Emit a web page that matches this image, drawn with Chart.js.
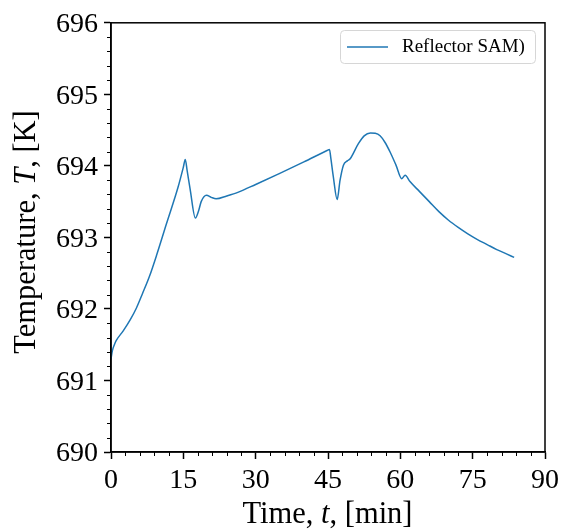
<!DOCTYPE html>
<html>
<head>
<meta charset="utf-8">
<script src="https://cdn.jsdelivr.net/npm/chart.js@4.4.1/dist/chart.umd.min.js"></script>
<style>
  html, body { margin: 0; padding: 0; background: #fff; }
  #wrap { width: 564px; height: 532px; }
</style>
</head>
<body>
<div id="wrap"><canvas id="tempChart" width="564" height="532"></canvas></div>
<script>
// time [min] and temperature [K]
const times = [0, 0.3, 0.7, 1.1, 2.5, 4, 5.25, 6.5, 8, 9.5, 11.5, 13.9, 15.0, 15.4, 15.8, 16.4, 17.5, 18.2, 18.7, 19.8, 20.8, 21.8,
  24, 26.3, 30, 35, 40, 44.8, 45.3, 45.6, 46.1, 46.9, 47.5, 48.2, 49.0, 49.6, 51.3, 52.5, 53.8, 54.8, 55.8, 56.8, 57.9, 59.1,
  60.3, 61.0, 62, 64, 66, 68, 70, 72, 74, 76, 78, 80, 82, 83.6];
const temps = [691.30, 691.42, 691.50, 691.56, 691.69, 691.85, 692.01, 692.21, 692.46, 692.76, 693.19, 693.70, 693.98, 694.09, 693.93, 693.68, 693.27, 693.38, 693.50, 693.59, 693.56, 693.54,
  693.58, 693.63, 693.74, 693.895, 694.055, 694.215, 694.23, 694.10, 693.85, 693.53, 693.80, 694.01, 694.07, 694.10, 694.31, 694.42, 694.46, 694.455, 694.42, 694.33, 694.19, 694.01,
  693.82, 693.87, 693.78, 693.64, 693.50, 693.36, 693.24, 693.14, 693.05, 692.97, 692.90, 692.83, 692.77, 692.72];
const seriesLabel = 'Reflector SAM)';
const xTicks = [0, 15, 30, 45, 60, 75, 90];
const yTicks = [690, 691, 692, 693, 694, 695, 696];

const serif = '"Liberation Serif", "Times New Roman", serif';
const tickFont = { family: serif, size: 28 };
const titleSize = 30.5;

// draw a string made of [text, italic] pieces, centred on the origin
function drawPieces(ctx, pieces, size) {
  let total = 0;
  pieces.forEach(p => {
    ctx.font = (p[1] ? 'italic ' : '') + size + 'px ' + serif;
    total += ctx.measureText(p[0]).width;
  });
  let x = -total / 2;
  pieces.forEach(p => {
    ctx.font = (p[1] ? 'italic ' : '') + size + 'px ' + serif;
    ctx.fillText(p[0], x, 0);
    x += ctx.measureText(p[0]).width;
  });
}

const extras = {
  id: 'extras',
  afterDraw(chart) {
    const ctx = chart.ctx;
    const a = chart.chartArea;
    const xs = chart.scales.x, ys = chart.scales.y;
    ctx.save();
    ctx.strokeStyle = '#000';
    ctx.lineWidth = 1.5;
    ctx.strokeRect(a.left, a.top, a.right - a.left, a.bottom - a.top);

    // minor ticks
    ctx.lineWidth = 1;
    ctx.beginPath();
    for (let v = 0; v <= 90; v += 3) {
      if (v % 15 === 0) continue;
      const px = Math.round(xs.getPixelForValue(v)) + 0.5;
      ctx.moveTo(px, a.bottom); ctx.lineTo(px, a.bottom + 4);
    }
    for (let i = 0; i <= 30; i++) {
      if (i % 5 === 0) continue;
      const py = Math.round(ys.getPixelForValue(690 + i * 0.2)) + 0.5;
      ctx.moveTo(a.left, py); ctx.lineTo(a.left - 4, py);
    }
    ctx.stroke();

    // axis titles
    ctx.fillStyle = '#000';
    ctx.textBaseline = 'alphabetic';
    ctx.textAlign = 'left';
    ctx.save();
    ctx.translate(327.5, 523);
    drawPieces(ctx, [['Time, ', false], ['t', true], [', [min]', false]], titleSize);
    ctx.restore();
    ctx.save();
    ctx.translate(35, 232);
    ctx.rotate(-Math.PI / 2);
    drawPieces(ctx, [['Temperature, ', false], ['T', true], [', [K]', false]], titleSize);
    ctx.restore();

    // legend
    const lx = 340, ly = 30, lw = 195, lh = 33;
    ctx.beginPath();
    ctx.roundRect(lx + 0.5, ly + 0.5, lw, lh, 4);
    ctx.fillStyle = 'rgba(255,255,255,0.8)';
    ctx.fill();
    ctx.strokeStyle = '#d6d6d6';
    ctx.lineWidth = 1;
    ctx.stroke();
    ctx.beginPath();
    ctx.strokeStyle = '#1f77b4';
    ctx.lineWidth = 1.5;
    ctx.moveTo(347, ly + 17); ctx.lineTo(388, ly + 17);
    ctx.stroke();
    ctx.fillStyle = '#000';
    ctx.font = '19px ' + serif;
    ctx.textBaseline = 'middle';
    ctx.fillText(chart.data.datasets[0].label, 402, ly + 17);
    ctx.restore();
  }
};

new Chart(document.getElementById('tempChart').getContext('2d'), {
  type: 'line',
  data: {
    datasets: [{
      label: seriesLabel,
      data: times.map((t, i) => ({ x: t, y: temps[i] })),
      borderColor: '#1f77b4',
      borderWidth: 1.5,
      pointRadius: 0,
      fill: false,
      cubicInterpolationMode: 'monotone'
    }]
  },
  options: {
    responsive: false,
    animation: false,
    layout: { padding: { top: 20, right: 19, left: 0, bottom: 0 } },
    plugins: { legend: { display: false }, tooltip: { enabled: false } },
    scales: {
      x: {
        type: 'linear',
        min: 0, max: 90,
        afterBuildTicks: s => { s.ticks = xTicks.map(v => ({ value: v })); },
        afterFit: s => { s.height = 80; },
        ticks: { font: tickFont, color: '#000', padding: 5, maxRotation: 0 },
        grid: { drawOnChartArea: false, color: '#000', tickLength: 7, tickWidth: 1.5 },
        border: { color: '#000', width: 1.5 }
      },
      y: {
        min: 690, max: 696,
        afterBuildTicks: s => { s.ticks = yTicks.map(v => ({ value: v })); },
        afterFit: s => { s.width = 111; },
        ticks: { font: tickFont, color: '#000', padding: 6, labelOffset: 2 },
        grid: { drawOnChartArea: false, color: '#000', tickLength: 7, tickWidth: 1.5 },
        border: { color: '#000', width: 1.5 }
      }
    }
  },
  plugins: [extras]
});
</script>
</body>
</html>
